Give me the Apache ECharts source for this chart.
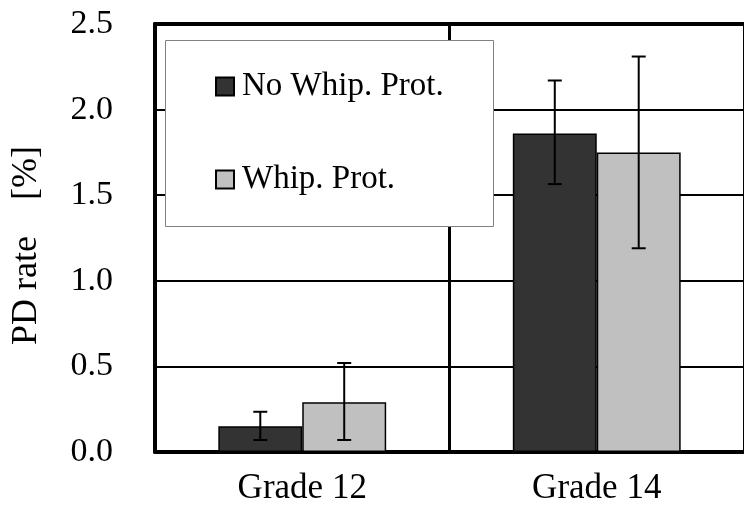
<!DOCTYPE html>
<html>
<head>
<meta charset="utf-8">
<script src="https://cdn.jsdelivr.net/npm/echarts@6/dist/echarts.min.js"></script>
<style>
  html, body { margin: 0; padding: 0; background: #fff; }
  #chart { width: 744px; height: 509px; }
</style>
</head>
<body>
<div id="chart"></div>
<script>
// categories and series
var grades = ['Grade 12', 'Grade 14'];
var seriesNames = ['No Whip. Prot.', 'Whip. Prot.'];
var noProt = [0.15, 1.86];
var withProt = [0.29, 1.75];
// error bar ends (low, high)
var noProtLow = [0.07, 1.565];
var noProtHigh = [0.235, 2.17];
var withProtLow = [0.07, 1.19];
var withProtHigh = [0.52, 2.31];

var myChart = echarts.init(document.getElementById('chart'));
var FONT = 'Liberation Serif';
var BAR_FRAC = 0.285;

function errData(low, high) {
    return grades.map(function (g, i) { return [i, low[i], high[i]]; });
}

function errRenderer(side) {
    return function (params, api) {
        var idx = api.value(0);
        var lo = api.coord([idx, api.value(1)]);
        var hi = api.coord([idx, api.value(2)]);
        var band = api.size([1, 0])[0];
        var x = lo[0] + side * band * BAR_FRAC / 2;
        var cap = 7;
        var st = { stroke: '#000', lineWidth: 2 };
        return {
            type: 'group',
            children: [
                { type: 'line', shape: { x1: x, y1: hi[1], x2: x, y2: lo[1] }, style: st },
                { type: 'line', shape: { x1: x - cap, y1: hi[1], x2: x + cap, y2: hi[1] }, style: st },
                { type: 'line', shape: { x1: x - cap, y1: lo[1], x2: x + cap, y2: lo[1] }, style: st }
            ]
        };
    };
}

function legendAt(name, top) {
    return {
        z: 10,
        padding: 0,
        left: 215, top: top,
        itemWidth: 18, itemHeight: 18,
        icon: 'rect',
        textStyle: { fontFamily: FONT, fontSize: 33, color: '#000', padding: [0, 0, 0, 3] },
        data: [name]
    };
}

var option = {
    animation: false,
    backgroundColor: '#fff',
    textStyle: { fontFamily: FONT, color: '#000' },
    grid: { left: 155, right: -1, top: 24, bottom: 57 },
    graphic: [{
        type: 'rect',
        z: 5,
        shape: { x: 165.5, y: 40.5, width: 328, height: 186 },
        style: { fill: '#fff', stroke: '#808080', lineWidth: 1 }
    }],
    legend: [legendAt(seriesNames[0], 70), legendAt(seriesNames[1], 163)],
    xAxis: [{
        type: 'category',
        data: grades,
        axisLine: { lineStyle: { color: '#000', width: 4 } },
        axisTick: { show: false },
        axisLabel: { fontFamily: FONT, fontSize: 35, color: '#000', margin: 19 },
        splitLine: { show: true, lineStyle: { color: '#000', width: 3 } }
    }, {
        type: 'category',
        position: 'top',
        data: grades,
        axisLine: { lineStyle: { color: '#000', width: 4 } },
        axisTick: { show: false },
        axisLabel: { show: false },
        splitLine: { show: false }
    }],
    yAxis: {
        type: 'value',
        min: 0, max: 2.5, interval: 0.5,
        name: 'PD rate    [%]',
        nameLocation: 'middle',
        nameGap: 110,
        nameTextStyle: { fontFamily: FONT, fontSize: 36, color: '#000', padding: [0, 15, 0, 0] },
        axisLine: { show: true, lineStyle: { color: '#000', width: 4 } },
        axisTick: { show: false },
        axisLabel: {
            fontFamily: FONT, fontSize: 34, color: '#000', margin: 42,
            formatter: function (v) { return v.toFixed(1); }
        },
        splitLine: { lineStyle: { color: '#000', width: 2 } }
    },
    series: [
        {
            name: seriesNames[0], type: 'bar', data: noProt,
            barWidth: (BAR_FRAC * 100) + '%', barGap: 0, z: 2,
            itemStyle: { color: '#333333', borderColor: '#000', borderWidth: 1.5 }
        },
        {
            name: seriesNames[1], type: 'bar', data: withProt,
            barWidth: (BAR_FRAC * 100) + '%', barGap: 0, z: 2,
            itemStyle: { color: '#c0c0c0', borderColor: '#000', borderWidth: 1.5 }
        },
        {
            type: 'custom', z: 3, renderItem: errRenderer(-1),
            data: errData(noProtLow, noProtHigh), silent: true
        },
        {
            type: 'custom', z: 3, renderItem: errRenderer(1),
            data: errData(withProtLow, withProtHigh), silent: true
        }
    ]
};

myChart.setOption(option);
</script>
</body>
</html>
